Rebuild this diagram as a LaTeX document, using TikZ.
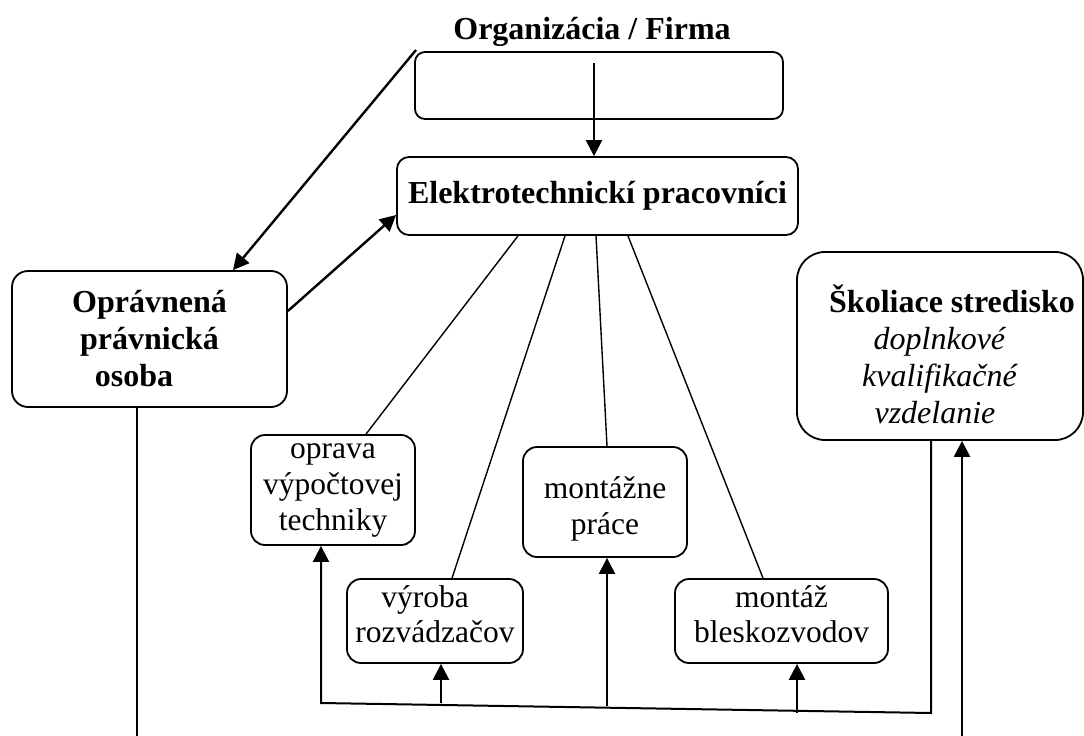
\documentclass[tikz,border=0pt]{standalone}
\usepackage{fontspec}
\setmainfont{Liberation Serif}
\usetikzlibrary{arrows.meta}
\begin{document}
\begin{tikzpicture}[x=1pt,y=-1pt,
  box/.style={draw, line width=1.8pt, rounded corners=#1, inner sep=0pt, align=center},
  box/.default=12pt,
  bigb/.style={font=\fontsize{32}{37}\selectfont\bfseries},
  big/.style={font=\fontsize{32}{37}\selectfont},
  small/.style={font=\fontsize{31.5}{36}\selectfont},
  smalltight/.style={font=\fontsize{31.5}{35}\selectfont},
  arr/.style={line width=2.4pt, -{Triangle[length=16pt,width=16pt]}},
  link/.style={line width=1.4pt},
]
\useasboundingbox (0,0) rectangle (1084,736);

% boxes
\node[box=10pt, minimum width=368pt, minimum height=67pt] (org) at (599,85.5) {};
\node[bigb, anchor=base] (title) at (592,39) {Organizácia / Firma};
\node[box=12pt, bigb, minimum width=401pt, minimum height=78pt] (el) at (597.5,196) {Elektrotechnickí pracovníci};
\node[box=16pt, bigb, minimum width=275pt, minimum height=136pt] (opr) at (149.5,339)
  {Oprávnená\\právnická\\osoba\hspace*{31pt}};
\node[box=28pt, big, minimum width=286pt, minimum height=188pt] (skol) at (940,346)
  {\rule{0pt}{45pt}\hspace*{24pt}\textbf{Školiace stredisko}\\\textit{doplnkové}\hspace*{10pt}\\\textit{kvalifikačné}\hspace*{10pt}\\\textit{vzdelanie}\hspace*{10pt}};
\node[box=14pt, small, minimum width=164pt, minimum height=110pt] (opra) at (333,490)
  {oprava\\výpočtovej\\techniky};
\node[box=14pt, small, minimum width=164pt, minimum height=110pt] (mp) at (605,502)
  {\rule{0pt}{35pt}montážne\\práce};
\node[box=14pt, smalltight, minimum width=176pt, minimum height=84pt] (vyr) at (435,621)
  {výroba\hspace*{20pt}\\rozvádzačov\rule[-13pt]{0pt}{13pt}};
\node[box=14pt, smalltight, minimum width=213pt, minimum height=84pt] (mz) at (781.5,621)
  {montáž\\bleskozvodov\rule[-13pt]{0pt}{13pt}};

% free ends
\coordinate (d1) at (416,50);
\coordinate (d2) at (594,63);
\coordinate (b1) at (931,713);
\coordinate (b2) at (321,703);
\coordinate (u1) at (441,703);
\coordinate (u2) at (607,706);
\coordinate (u3) at (797,713);
\coordinate (r1) at (962,740);
\coordinate (o1) at (137,740);

% connectors
\draw[arr] (d1) -- ([xshift=83.5pt]opr.north);
\draw[arr] (d2) -- ([xshift=-3.5pt]el.north);
\draw[arr] ([yshift=28pt]opr.east) -- ([yshift=-19pt]el.west);

\draw[link] ([xshift=-79.5pt]el.south) -- ([xshift=33pt]opra.north);
\draw[link] ([xshift=-32.5pt]el.south) -- ([xshift=17pt]vyr.north);
\draw[link] ([xshift=-1.5pt]el.south) -- ([xshift=2pt]mp.north);
\draw[link] ([xshift=30.5pt]el.south) -- ([xshift=-18.5pt]mz.north);

\draw[link] ([xshift=-12.5pt]opr.south) -- (o1);
\draw[arr, line width=2pt] ([xshift=-9pt]skol.south) -- (b1) -- (b2) -- ([xshift=-12pt]opra.south);
\draw[arr] (u1) -- ([xshift=6pt]vyr.south);
\draw[arr] (u2) -- ([xshift=2pt]mp.south);
\draw[arr] (u3) -- ([xshift=15.5pt]mz.south);
\draw[arr] (r1) -- ([xshift=22pt]skol.south);
\end{tikzpicture}
\end{document}
